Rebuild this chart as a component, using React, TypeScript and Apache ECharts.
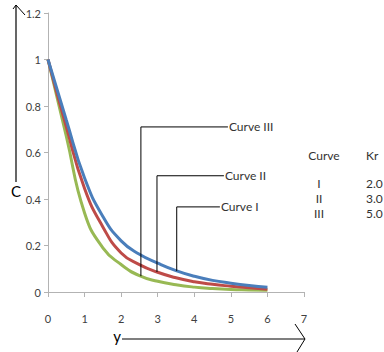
import React, { useEffect, useRef } from "react";
import * as echarts from "echarts";

const yValues = [0, 0.5, 1, 1.5, 2, 2.5, 3, 3.5, 4, 4.5, 5, 5.5, 6];
// Curve I (Kr 2.0, blue), Curve II (Kr 3.0, red), Curve III (Kr 5.0, green)
const curveI = [1, 0.74, 0.49, 0.325, 0.22, 0.162, 0.124, 0.092, 0.068, 0.05, 0.038, 0.028, 0.02];
const curveII = [1, 0.71, 0.445, 0.28, 0.168, 0.118, 0.085, 0.061, 0.044, 0.033, 0.025, 0.018, 0.012];
const curveIII = [1, 0.67, 0.34, 0.19, 0.118, 0.07, 0.046, 0.031, 0.021, 0.015, 0.011, 0.009, 0.007];

const seriesNames = ["Curve I", "Curve II", "Curve III"];
const seriesColors = ["#4a7ebb", "#be4b48", "#98b954"];
const seriesData = [curveI, curveII, curveIII];

// annotation leaders: x, curve value at x, top value, end x
const annotX = [3.52, 2.98, 2.54];
const annotBottom = [0.09, 0.086, 0.068];
const annotTop = [0.366, 0.5, 0.71];
const annotEnd = [4.7, 4.81, 4.92];

const tableHeader = ["Curve", "Kr"];
const tableCurves = ["I", "II", "III"];
const tableKr = ["2.0", "3.0", "5.0"];

const FONT = "Lato, 'Liberation Sans', sans-serif";

export default function App() {
  const ref = useRef<HTMLDivElement>(null);
  useEffect(() => {
    if (!ref.current) return;
    const chart = echarts.init(ref.current, undefined, { renderer: "svg" });
    const curves = seriesData.map((arr, i) => ({
      type: "line",
      name: seriesNames[i],
      data: arr.map((v, j) => [yValues[j], v]),
      smooth: true,
      symbol: "none",
      lineStyle: { color: seriesColors[i], width: 3 },
      z: 3 - i,
    }));
    const annots = annotX.map((x, i) => ({
      type: "line",
      data: [
        [x, annotBottom[i]],
        [x, annotTop[i]],
        [annotEnd[i], annotTop[i]],
      ],
      symbol: "none",
      lineStyle: { color: "#000", width: 1 },
      z: 5,
      endLabel: {
        show: true,
        formatter: seriesNames[i],
        distance: 1,
        color: "#333",
        fontSize: 12,
        fontFamily: FONT,
      },
    }));
    const graphics: any[] = [
      { type: "line", shape: { x1: 16, y1: 5, x2: 16, y2: 182 }, style: { stroke: "#000", lineWidth: 1.2 } },
      { type: "polyline", shape: { points: [[13, 9], [16, 5], [25, 15]] }, style: { stroke: "#000", lineWidth: 1, fill: null } },
      { type: "text", x: 16, y: 191, style: { text: "C", fontSize: 15, fontFamily: FONT, fill: "#000", align: "center", verticalAlign: "middle" } },
      { type: "text", x: 117, y: 336, style: { text: "y", fontSize: 15, fontFamily: FONT, fill: "#000", align: "center", verticalAlign: "middle" } },
      { type: "line", shape: { x1: 122, y1: 339, x2: 305, y2: 339 }, style: { stroke: "#000", lineWidth: 1.2 } },
      { type: "polyline", shape: { points: [[295, 324], [305, 339], [297, 352]] }, style: { stroke: "#000", lineWidth: 1, fill: null } },
      { type: "text", x: 324, y: 155, style: { text: tableHeader[0], fontSize: 12, fontFamily: FONT, fill: "#333", align: "center", verticalAlign: "middle" } },
      { type: "text", x: 366, y: 155, style: { text: tableHeader[1], fontSize: 12, fontFamily: FONT, fill: "#333", align: "left", verticalAlign: "middle" } },
    ];
    tableCurves.forEach((c, i) => {
      const y = 183 + i * 15;
      graphics.push({ type: "text", x: 319, y, style: { text: c, fontSize: 12, fontFamily: FONT, fill: "#333", align: "center", verticalAlign: "middle" } });
      graphics.push({ type: "text", x: 366, y, style: { text: tableKr[i], fontSize: 12, fontFamily: FONT, fill: "#333", align: "left", verticalAlign: "middle" } });
    });
    chart.setOption({
      animation: false,
      grid: { left: 48, right: 80, top: 13, bottom: 60 },
      xAxis: {
        type: "value",
        min: 0,
        max: 7,
        interval: 1,
        splitLine: { show: false },
        axisLine: { lineStyle: { color: "#b3b3b3", width: 1 } },
        axisTick: { length: 5, lineStyle: { color: "#b3b3b3" } },
        axisLabel: { color: "#404040", fontSize: 11, fontFamily: FONT, margin: 21 },
      },
      yAxis: {
        type: "value",
        min: 0,
        max: 1.2,
        interval: 0.2,
        splitLine: { show: false },
        axisLine: { show: true, lineStyle: { color: "#b3b3b3", width: 1 } },
        axisTick: { show: true, length: 4, lineStyle: { color: "#b3b3b3" } },
        axisLabel: { color: "#404040", fontSize: 11, fontFamily: FONT, margin: 7 },
      },
      series: [...curves, ...annots],
      graphic: graphics,
    });
    return () => chart.dispose();
  }, []);
  return <div ref={ref} style={{ width: 384, height: 352, position: "absolute", left: 0, top: 0 }} />;
}
